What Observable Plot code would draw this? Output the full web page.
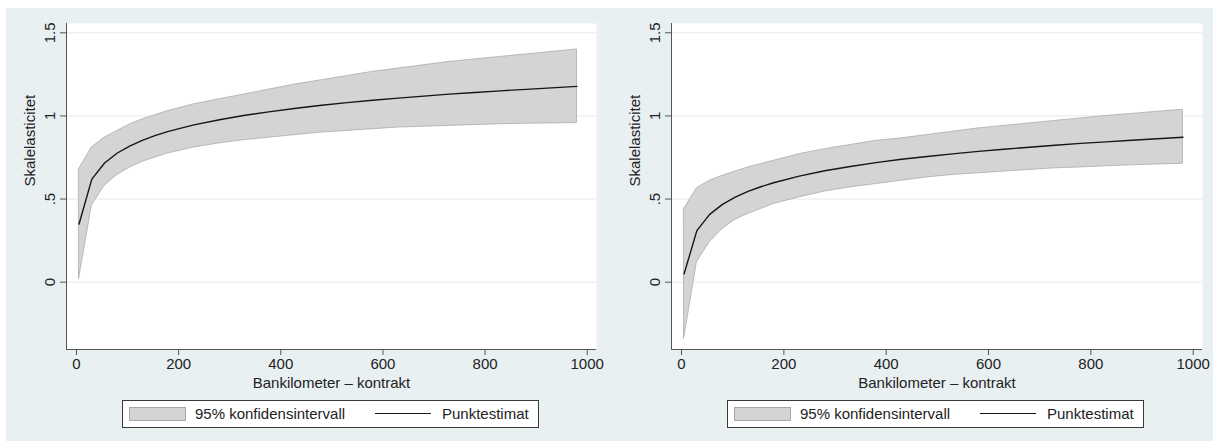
<!DOCTYPE html>
<html>
<head>
<meta charset="utf-8">
<script src="https://cdn.jsdelivr.net/npm/d3@7"></script>
<script src="https://cdn.jsdelivr.net/npm/@observablehq/plot@0.6"></script>
<style>
  html, body { margin: 0; padding: 0; background: #ffffff; }
  #wrap { position: relative; width: 1213px; height: 441px; overflow: hidden; font-family: "Liberation Sans", Arial, sans-serif; }
  #bg { position: absolute; left: 6px; top: 8px; right: 0; bottom: 0; background: #e9f0f2; }
  .panel { position: absolute; top: 0; height: 441px; }
  .legend { position: absolute; top: 400px; height: 26px; background: #ffffff; border: 1px solid #3a3a3a; font-size: 15px; color: #222; }
  .legend .sw { position: absolute; left: 6px; top: 6px; width: 55px; height: 12px; background: #d3d3d3; border: 1px solid #a8a8a8; }
  .legend .ln { position: absolute; top: 12px; height: 0; border-top: 1.5px solid #151515; }
  .legend .tx { position: absolute; top: 4px; line-height: 17px; white-space: nowrap; }
</style>
</head>
<body>
<div id="wrap">
  <div id="bg"></div>
</div>
<script>
// ---- data ----
const xVals = [5, 30, 55, 80, 105, 130, 155, 180, 230, 280, 330, 380, 430, 480, 530, 580, 630, 680, 730, 780, 830, 880, 930, 980];

const leftEst = [0.35, 0.62, 0.717, 0.777, 0.820, 0.855, 0.883, 0.907, 0.946, 0.977, 1.004, 1.026, 1.046, 1.064, 1.080, 1.094, 1.107, 1.119, 1.131, 1.141, 1.151, 1.160, 1.169, 1.178];
const leftLo  = [0.02, 0.46, 0.58, 0.645, 0.69, 0.725, 0.75, 0.775, 0.81, 0.835, 0.855, 0.87, 0.885, 0.90, 0.91, 0.92, 0.93, 0.935, 0.94, 0.945, 0.95, 0.953, 0.955, 0.957];
const leftHi  = [0.68, 0.81, 0.87, 0.91, 0.95, 0.98, 1.005, 1.03, 1.07, 1.10, 1.13, 1.16, 1.19, 1.215, 1.24, 1.265, 1.285, 1.305, 1.325, 1.34, 1.355, 1.37, 1.385, 1.40];

const rightEst = [0.05, 0.31, 0.408, 0.468, 0.512, 0.546, 0.574, 0.598, 0.638, 0.670, 0.696, 0.719, 0.739, 0.756, 0.772, 0.787, 0.800, 0.812, 0.824, 0.835, 0.844, 0.854, 0.863, 0.872];
const rightLo  = [-0.34, 0.12, 0.24, 0.32, 0.375, 0.41, 0.44, 0.47, 0.51, 0.545, 0.57, 0.59, 0.61, 0.63, 0.645, 0.655, 0.665, 0.675, 0.685, 0.69, 0.697, 0.703, 0.708, 0.712];
const rightHi  = [0.44, 0.565, 0.61, 0.64, 0.665, 0.69, 0.71, 0.73, 0.77, 0.80, 0.825, 0.85, 0.865, 0.885, 0.905, 0.925, 0.94, 0.955, 0.97, 0.985, 1.00, 1.012, 1.025, 1.037];

const xTicks = [0, 200, 400, 600, 800, 1000];
const xTickLabels = ["0", "200", "400", "600", "800", "1000"];
const yTicks = [0, 0.5, 1, 1.5];
const yTickLabels = ["0", ".5", "1", "1.5"];
const xTitle = "Bankilometer – kontrakt";
const yTitle = "Skalelasticitet";
const legendLabels = ["95% konfidensintervall", "Punktestimat"];

// ---- scales / layout ----
const xDomain = [-19.6, 1018.2];
const yDomain = [-0.405, 1.556];

function panel(est, lo, hi, width, marginRight) {
  const data = xVals.map((x, i) => ({x, est: est[i], lo: lo[i], hi: hi[i]}));
  return Plot.plot({
    width, height: 395,
    marginLeft: 66, marginRight, marginTop: 23, marginBottom: 46,
    x: {domain: xDomain},
    y: {domain: yDomain},
    style: {background: "transparent", fontFamily: "'Liberation Sans', Arial, sans-serif", fontSize: "15px", color: "#222", overflow: "visible"},
    marks: [
      Plot.frame({fill: "#ffffff", stroke: null}),
      Plot.gridY(yTicks, {stroke: "#e3eaed", strokeOpacity: 1, strokeWidth: 1}),
      Plot.areaY(data, {x: "x", y1: "lo", y2: "hi", fill: "#d4d4d4", stroke: "#a3a3a3", strokeWidth: 0.7}),
      Plot.lineY(data, {x: "x", y: "est", stroke: "#151515", strokeWidth: 1.4}),
      Plot.ruleX([xDomain[0]], {stroke: "#555", strokeWidth: 1}),
      Plot.ruleY([yDomain[0]], {stroke: "#555", strokeWidth: 1}),
      Plot.axisX(xTicks, {tickSize: 6, tickPadding: 3, stroke: "#555", fill: "#222", fontSize: 15, label: null,
        tickFormat: d => xTickLabels[xTicks.indexOf(d)]}),
      Plot.axisY(yTicks, {tickSize: 6, tickPadding: 6, tickRotate: -90, stroke: "#555", fill: "#222", fontSize: 15, label: null,
        tickFormat: d => yTickLabels[yTicks.indexOf(d)]}),
      Plot.text([xTitle], {frameAnchor: "bottom", dy: 38, lineAnchor: "bottom", fontSize: 15, fill: "#222"}),
      Plot.text([yTitle], {frameAnchor: "left", dx: -36, rotate: -90, fontSize: 15, fill: "#222"})
    ]
  });
}

function legend(parent) {
  const lg = document.createElement("div");
  lg.className = "legend";
  lg.style.left = "122px";
  lg.style.width = "415px";
  lg.innerHTML =
    '<div class="sw"></div>' +
    '<div class="tx" style="left:72px">' + legendLabels[0] + '</div>' +
    '<div class="ln" style="left:252px;width:56px"></div>' +
    '<div class="tx" style="left:319px">' + legendLabels[1] + '</div>';
  parent.appendChild(lg);
}

const wrap = document.getElementById("wrap");
const specs = [
  {left: 0, width: 605, mr: 9, est: leftEst, lo: leftLo, hi: leftHi},
  {left: 605, width: 608, mr: 11, est: rightEst, lo: rightLo, hi: rightHi}
];
for (const s of specs) {
  const p = document.createElement("div");
  p.className = "panel";
  p.style.left = s.left + "px";
  p.style.width = s.width + "px";
  p.appendChild(panel(s.est, s.lo, s.hi, s.width, s.mr));
  legend(p);
  wrap.appendChild(p);
}
</script>
</body>
</html>
